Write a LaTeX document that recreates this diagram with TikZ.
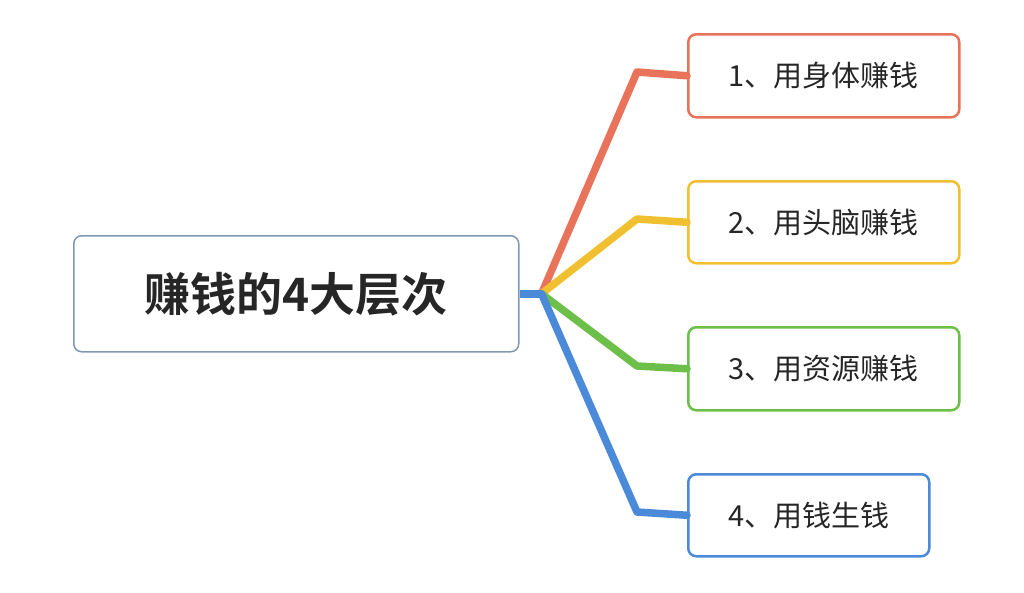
\documentclass[tikz,border=0pt]{standalone}
\usepackage{fontspec}
\setmainfont{Noto Sans CJK SC}[BoldFont={Noto Sans CJK SC Bold}]
\definecolor{cr}{HTML}{E8735A}
\definecolor{cy}{HTML}{F0C030}
\definecolor{cg}{HTML}{6CC04A}
\definecolor{cb}{HTML}{4A8AD8}
\definecolor{cbox}{HTML}{8098B8}
\begin{document}
\begin{tikzpicture}[x=1pt,y=-1pt,
  leaf/.style={draw,line width=2.5pt,rounded corners=8pt,fill=white,font=\fontsize{29}{34}\selectfont,text=black!85,anchor=north west,inner sep=0pt},
  conn/.style={line width=7.5pt,line join=round,line cap=round}]
\useasboundingbox (0,0) rectangle (1024,592);
\node[draw=cbox,line width=1.5pt,rounded corners=8pt,anchor=north west,minimum width=445pt,minimum height=116pt,font=\bfseries\fontsize{46}{52}\selectfont,text=black!85] (root) at (73,235) {赚钱的4大层次};
\node[leaf,draw=cr,minimum width=271pt,minimum height=83pt] (a) at (687,33) {1、用身体赚钱};
\node[leaf,draw=cy,minimum width=271pt,minimum height=82pt] (b) at (687,180) {2、用头脑赚钱};
\node[leaf,draw=cg,minimum width=271pt,minimum height=83pt] (c) at (687,326) {3、用资源赚钱};
\node[leaf,draw=cb,minimum width=241pt,minimum height=82pt] (d) at (687,473) {4、用钱生钱};
\coordinate (j) at ([xshift=22pt]root.east);
\draw[conn,cr] (j) -- (637,72) -- (a.west);
\draw[conn,cy] (j) -- (637,219) -- (b.west);
\draw[conn,cg] (j) -- (637,366) -- (c.west);
\draw[conn,cb] (j) -- (637,512) -- (d.west);
\draw[conn,cb,line cap=butt] (root.east) -- (j);
\end{tikzpicture}
\end{document}
